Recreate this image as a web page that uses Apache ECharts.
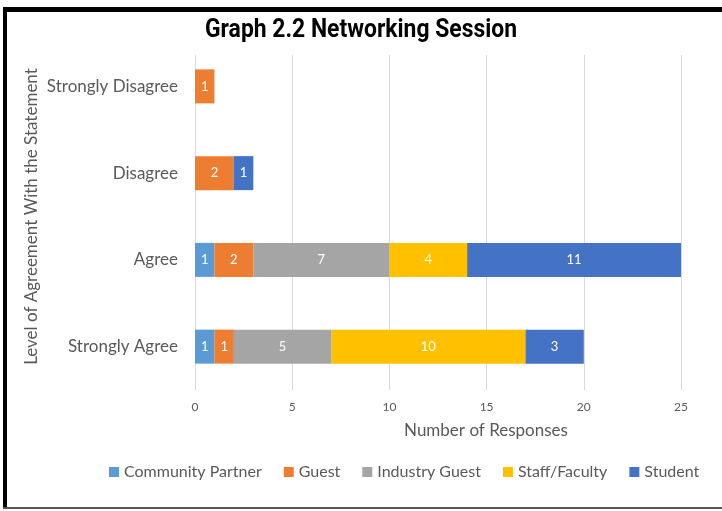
<!DOCTYPE html>
<html>
<head>
<meta charset="utf-8">
<script src="https://cdn.jsdelivr.net/npm/echarts@6/dist/echarts.min.js"></script>
<style>
html,body{margin:0;padding:0;background:#fff;}
#chart{width:722px;height:511px;}
</style>
</head>
<body>
<div id="chart"></div>
<script>
const categories = ['Strongly Agree', 'Agree', 'Disagree', 'Strongly Disagree'];
const seriesNames = ['Community Partner', 'Guest', 'Industry Guest', 'Staff/Faculty', 'Student'];
const communityPartner = [1, 1, 0, 0];
const guest = [1, 2, 2, 1];
const industryGuest = [5, 7, 0, 0];
const staffFaculty = [10, 4, 0, 0];
const student = [3, 11, 1, 0];
const xTickMin = 0, xTickMax = 25, xTickStep = 5;
const titleText = 'Graph 2.2 Networking Session';

const colors = ['#5B9BD5', '#ED7D31', '#A5A5A5', '#FFC000', '#4472C4'];
const values = [communityPartner, guest, industryGuest, staffFaculty, student];
const FONT = 'Lato';
const GRAY = '#595959';

// condensed title: measure and squeeze horizontally to the reference width
const TITLE_FONT = 'bold 25px Roboto';
const ctx = document.createElement('canvas').getContext('2d');
ctx.font = TITLE_FONT;
const titleScale = Math.min(1, 312 / ctx.measureText(titleText).width);

const chart = echarts.init(document.getElementById('chart'));
chart.setOption({
  animation: false,
  legend: {
    top: 459, left: 104,
    itemWidth: 10, itemHeight: 10, itemGap: 22, icon: 'rect',
    textStyle: { fontFamily: FONT, fontSize: 16, color: GRAY },
    data: seriesNames
  },
  grid: [
    { left: 195, width: 486, top: 43, height: 347 },
    { left: 195, width: 486, top: 55, height: 335 }
  ],
  xAxis: [
    {
      gridIndex: 0, type: 'value', min: xTickMin, max: xTickMax, interval: xTickStep,
      splitLine: { show: false }, axisLine: { show: false }, axisTick: { show: false },
      axisLabel: { margin: 11, fontFamily: FONT, fontSize: 12, color: GRAY },
      name: 'Number of Responses', nameLocation: 'middle', nameGap: 32,
      nameTextStyle: { fontFamily: FONT, fontSize: 17, color: GRAY, padding: [0, 0, 0, 96] }
    },
    {
      gridIndex: 1, type: 'value', min: xTickMin, max: xTickMax, interval: xTickStep,
      splitLine: { show: true, lineStyle: { color: '#D9D9D9', width: 1 } },
      axisLine: { show: false }, axisTick: { show: false }, axisLabel: { show: false }
    }
  ],
  yAxis: [
    {
      gridIndex: 0, type: 'category', data: categories,
      axisLine: { show: false }, axisTick: { show: false },
      axisLabel: { margin: 17, fontFamily: FONT, fontSize: 17, color: GRAY },
      name: 'Level of Agreement With the Statement', nameLocation: 'middle', nameGap: 155,
      nameMoveOverlap: false,
      nameTextStyle: { fontFamily: FONT, fontSize: 17, color: GRAY }
    },
    { gridIndex: 1, type: 'value', show: false, min: 0, max: 1, splitLine: { show: false } }
  ],
  series: seriesNames.map((name, i) => ({
    name: name, type: 'bar', stack: 'total', xAxisIndex: 0, yAxisIndex: 0,
    barWidth: 34, itemStyle: { color: colors[i] },
    label: {
      show: true, position: 'inside', color: '#fff', fontFamily: FONT, fontSize: 13,
      formatter: p => (p.value ? String(p.value) : '')
    },
    data: values[i]
  })),
  graphic: [
    { type: 'rect', shape: { x: 3, y: 7, width: 719, height: 5 }, style: { fill: '#000' }, silent: true },
    { type: 'rect', shape: { x: 3, y: 7, width: 4, height: 502 }, style: { fill: '#000' }, silent: true },
    { type: 'rect', shape: { x: 3, y: 507, width: 719, height: 2 }, style: { fill: '#555' }, silent: true },
    {
      type: 'text', x: 205, y: 31, scaleX: titleScale, silent: true,
      style: { text: titleText, font: TITLE_FONT, fill: '#000', textAlign: 'left', textVerticalAlign: 'middle' }
    }
  ]
});
</script>
</body>
</html>
